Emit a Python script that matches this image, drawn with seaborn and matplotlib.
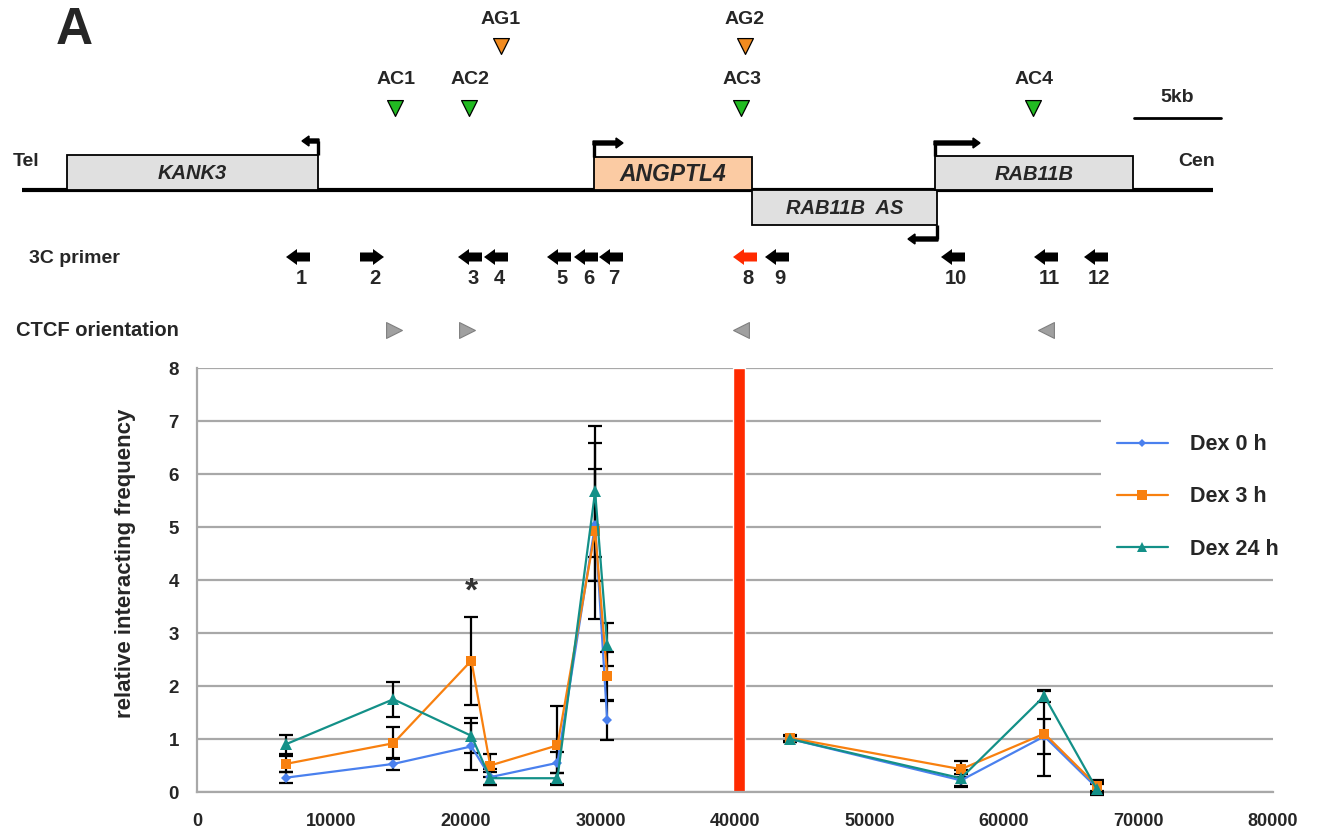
import matplotlib
matplotlib.use("Agg")
import matplotlib.pyplot as plt
from matplotlib.patches import Rectangle, FancyArrow
from matplotlib.lines import Line2D
import numpy as np
import pandas as pd
import seaborn as sns

# 3C data: primer position (bp) and relative interacting frequency
positions = [6600, 14600, 20400, 21800, 26800, 29600, 30500, 44100, 56800, 63000, 66900]
segments = [0, 0, 0, 0, 0, 0, 0, 1, 1, 1, 1]

dex0 = [0.27, 0.53, 0.86, 0.28, 0.55, 5.04, 1.35, 1.00, 0.22, 1.05, 0.08]
dex0_err = [0.10, 0.11, 0.44, 0.15, 0.20, 1.06, 0.37, 0.05, 0.12, 0.33, 0.10]
dex3 = [0.53, 0.92, 2.48, 0.50, 0.88, 4.92, 2.19, 1.02, 0.43, 1.10, 0.12]
dex3_err = [0.15, 0.30, 0.83, 0.22, 0.75, 1.66, 0.45, 0.05, 0.15, 0.80, 0.10]
dex24 = [0.90, 1.75, 1.06, 0.26, 0.26, 5.67, 2.78, 1.00, 0.26, 1.81, 0.05]
dex24_err = [0.18, 0.33, 0.33, 0.12, 0.10, 1.23, 0.41, 0.05, 0.15, 0.11, 0.10]

conditions = ["Dex 0 h", "Dex 3 h", "Dex 24 h"]
viewpoint_pos = [40300]
viewpoint_height = [8]
y_ticks = [0, 1, 2, 3, 4, 5, 6, 7, 8]
x_ticks = [0, 10000, 20000, 30000, 40000, 50000, 60000, 70000, 80000]
x_tick_labels = ["0", "10000", "20000", "30000", "40000", "50000", "60000", "70000", "80000"]

palette = {"Dex 0 h": "#4a80ee", "Dex 3 h": "#f8800f", "Dex 24 h": "#139088"}
markers = {"Dex 0 h": "D", "Dex 3 h": "s", "Dex 24 h": "^"}
msizes = {"Dex 0 h": 5.5, "Dex 3 h": 7.5, "Dex 24 h": 8}

# long-form table
rows = []
for cond, vals, errs in zip(conditions, [dex0, dex3, dex24], [dex0_err, dex3_err, dex24_err]):
    for p, v, e, s in zip(positions, vals, errs, segments):
        rows.append({"pos": p, "freq": v, "err": e, "cond": cond, "seg": s})
df = pd.DataFrame(rows)

sns.set_style("white")
plt.rcParams["font.family"] = ["Liberation Sans", "DejaVu Sans"]
plt.rcParams["font.weight"] = "bold"

fig = plt.figure(figsize=(13.19, 8.3), dpi=100)

# ---- locus diagram (pixel coordinates) ----
axd = fig.add_axes([0, 0, 1, 1])
axd.set_xlim(0, 1319)
axd.set_ylim(830, 0)
axd.axis("off")

axd.text(56, 31, "A", fontsize=37, fontweight="bold", ha="left", va="center")

# chromosome line
axd.plot([22, 1213], [190, 190], color="black", lw=3, solid_capstyle="butt", zorder=2)

genes = [
    ("KANK3", 67, 318, 155, 190, "#e0e0e0", 14.5),
    ("ANGPTL4", 594, 752, 157, 190, "#fbcba3", 16.5),
    ("RAB11B  AS", 752, 937, 190, 225, "#e0e0e0", 14.5),
    ("RAB11B", 935, 1133, 156, 190, "#e0e0e0", 14.5),
]
for name, x0, x1, y0, y1, fc, fs in genes:
    axd.add_patch(Rectangle((x0, y0), x1 - x0, y1 - y0, facecolor=fc,
                            edgecolor="black", lw=1.3, zorder=3))
    axd.text((x0 + x1) / 2, (y0 + y1) / 2 + 1, name, fontsize=fs, fontstyle="italic",
             fontweight="bold", ha="center", va="center", zorder=4)

# promoter (TSS) arrows: x, base, top, direction, length
promoters = [(318, 155, 141, -1, 17), (594, 157, 143, 1, 30),
             (935, 156, 143, 1, 46), (937, 225, 239, -1, 30)]
for x, yb, yt, d, ln in promoters:
    axd.plot([x, x], [yb, yt], color="black", lw=2.4, solid_capstyle="butt", zorder=4)
    axd.add_patch(FancyArrow(x - d * 1, yt, d * ln, 0, width=4, head_width=10,
                             head_length=7, length_includes_head=True,
                             color="black", zorder=4))

# binding sites
ac_x = [395, 469, 741, 1033]
ac_lab = ["AC1", "AC2", "AC3", "AC4"]
ag_x = [501, 745]
ag_lab = ["AG1", "AG2"]
axd.scatter(ac_x, [108] * 4, marker="v", s=130, color="#22bb22", edgecolor="black", lw=0.9, zorder=4)
axd.scatter(ag_x, [46] * 2, marker="v", s=130, color="#f28b1f", edgecolor="black", lw=0.9, zorder=4)
for x, t in zip(ac_x, ac_lab):
    axd.text(x + 1, 79, t, fontsize=14, fontweight="bold", ha="center", va="center")
for x, t in zip(ag_x, ag_lab):
    axd.text(x, 20, t, fontsize=14, fontweight="bold", ha="center", va="center")

# scale bar
axd.plot([1134, 1221], [118, 118], color="black", lw=2)
axd.text(1177, 97, "5kb", fontsize=14, fontweight="bold", ha="center", va="center")
axd.text(26, 162, "Tel", fontsize=14, fontweight="bold", ha="center", va="center")
axd.text(1197, 162, "Cen", fontsize=14, fontweight="bold", ha="center", va="center")

# 3C primers
axd.text(29, 258, "3C primer", fontsize=14, fontweight="bold", ha="left", va="center")
primer_x = [298, 372, 470, 496, 559, 586, 611, 745, 777, 953, 1046, 1096]
primer_dir = [-1, 1, -1, -1, -1, -1, -1, -1, -1, -1, -1, -1]
for i, (x, d) in enumerate(zip(primer_x, primer_dir)):
    col = "#ff2a00" if i == 7 else "black"
    axd.add_patch(FancyArrow(x - d * 12, 257, d * 24, 0, width=9, head_width=16,
                             head_length=11, length_includes_head=True,
                             color=col, lw=0, zorder=4))
    axd.text(x + 3, 278, str(i + 1), fontsize=14.5, fontweight="bold", ha="center", va="center")

# CTCF orientation
axd.text(16, 330, "CTCF orientation", fontsize=14.5, fontweight="bold", ha="left", va="center")
axd.scatter([394, 467], [330, 330], marker=">", s=130, color="#a0a0a0", edgecolor="#808080", lw=0.8)
axd.scatter([741, 1046], [330, 330], marker="<", s=130, color="#a0a0a0", edgecolor="#808080", lw=0.8)

# ---- 3C interaction plot ----
ax = fig.add_axes([197 / 1319, 38 / 830, 1076 / 1319, 424 / 830])
ax.set_facecolor("white")

ax.bar(viewpoint_pos, viewpoint_height, width=950, color="#ff2a00", zorder=2)

for cond in conditions:
    sub = df[df["cond"] == cond]
    ax.errorbar(sub["pos"], sub["freq"], yerr=sub["err"], fmt="none", ecolor="black",
                elinewidth=1.6, capsize=5, capthick=1.6, zorder=3, clip_on=False)

sns.lineplot(data=df, x="pos", y="freq", hue="cond", style="cond", units="seg",
             estimator=None, sort=False, palette=palette, markers=markers, dashes=False,
             linewidth=1.6, markeredgewidth=0, legend=False, ax=ax, zorder=4)
for line in ax.lines:
    c = matplotlib.colors.to_hex(line.get_color())
    for cond in conditions:
        if c == palette[cond]:
            line.set_markersize(msizes[cond])
    line.set_clip_on(False)

ax.text(20400, 3.77, "*", fontsize=24, fontweight="bold", color="#333333",
        ha="center", va="center")

ax.set_xlim(0, 80000)
ax.set_ylim(0, 8)
ax.set_xticks(x_ticks)
ax.set_xticklabels(x_tick_labels, fontsize=13, fontweight="bold")
ax.set_yticks(y_ticks)
ax.set_yticklabels([str(t) for t in y_ticks], fontsize=13.5, fontweight="bold")
ax.yaxis.grid(True, color="#a8a8a8", lw=1.6)
ax.xaxis.grid(False)
ax.set_axisbelow(True)
for s in ["top", "right"]:
    ax.spines[s].set_visible(False)
for s in ["left", "bottom"]:
    ax.spines[s].set_color("#a8a8a8")
    ax.spines[s].set_linewidth(1.6)
ax.tick_params(axis="y", direction="out", length=5, width=1.5, color="#a8a8a8", pad=8)
ax.tick_params(axis="x", direction="out", length=5, width=1.5, color="#a8a8a8", pad=10)
ax.set_xlabel("")
ax.set_ylabel("relative interacting frequency", fontsize=16, fontweight="bold")
ax.yaxis.set_label_coords(-0.057, (792 - 563) / 424)

handles = [Line2D([], [], color=palette[c], marker=markers[c], markersize=msizes[c] - 1,
                  lw=1.6, markeredgewidth=0) for c in conditions]
leg = ax.legend(handles, conditions, loc="upper left", bbox_to_anchor=(1101 / 1319, 1 - 418 / 830),
                bbox_transform=fig.transFigure, frameon=True, facecolor="white", edgecolor="none",
                framealpha=1, fancybox=False, borderpad=0.75, borderaxespad=0,
                handlelength=2.35, handletextpad=1.05, labelspacing=1.45,
                prop={"size": 15.5, "weight": "bold"})
leg.set_zorder(5)

fig.savefig("out.png", dpi=100)
